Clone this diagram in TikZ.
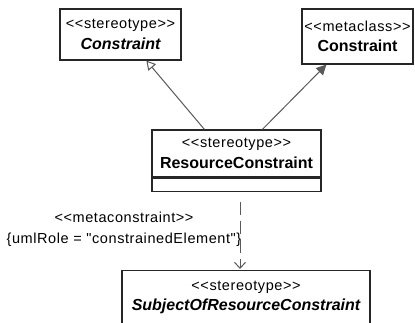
\documentclass[tikz,border=0pt]{standalone}
\usepackage{fontspec}
\newfontfamily\umlfont{Liberation Sans}[LetterSpace=4]
\newfontfamily\namefont{Liberation Sans}
\usetikzlibrary{positioning,arrows.meta,calc}

\newcommand{\stereo}[1]{{\fontsize{14.5}{20}\selectfont #1}}
\newcommand{\cname}[1]{{\namefont\fontsize{16}{20}\selectfont\bfseries #1}}

\begin{document}
\begin{tikzpicture}[
  x=1pt, y=-1pt,
  classbox/.style={draw=black!85, line width=1.2pt, align=center, inner sep=0pt,
                   font=\umlfont\fontsize{15}{20.5}\selectfont},
  assoc/.style={draw=black!65, line width=1pt},
  realize/.style={assoc, -{Triangle[open, length=9pt, width=10pt]}},
  extend/.style={assoc, -{Triangle[length=10pt, width=10pt]}},
  dep/.style={assoc, dash pattern=on 13pt off 6pt, -{Straight Barb[length=6pt, width=11pt]}}
]
  \clip (0,0) rectangle (415,322);
  \fill[white] (0,0) rectangle (415,322);

  \node[classbox, minimum width=121pt, minimum height=51pt] (stcon) at (120.5,34.5)
    {\stereo{<<stereotype>>}\\\cname{\itshape Constraint}};
  \node[classbox, minimum width=111pt, minimum height=55pt] (mccon) at (357.5,36.5)
    {\stereo{<<metaclass>>}\\\cname{Constraint}};

  \node[classbox, minimum width=169pt, minimum height=47pt] (rescon) at (236.5,153.5)
    {\stereo{<<stereotype>>}\\\cname{ResourceConstraint}};
  \node[classbox, minimum width=169pt, minimum height=13pt, below=0pt of rescon] (resops) {};

  \node[classbox, minimum width=248pt, minimum height=54pt, anchor=north] (subj) at (246,270)
    {\stereo{<<stereotype>>}\\\cname{\itshape SubjectOfResourceConstraint}};

  \node[font=\umlfont\fontsize{15}{21}\selectfont, align=center, inner sep=0pt] (mcl) at (124,229.5)
    {\stereo{<<metaconstraint>>}\\\stereo{\{umlRole = "constrainedElement"\}}};

  \draw[realize] ($(rescon.north west)+(53,0)$) -- ($(stcon.south west)+(87,0)$);
  \draw[extend]  ($(rescon.north west)+(111,0)$) -- ($(mccon.south west)+(25,0)$);
  \draw[dep]     ($(resops.south)+(3.5,10)$) -- ($(subj.north)+(-6,-1)$);
\end{tikzpicture}
\end{document}
